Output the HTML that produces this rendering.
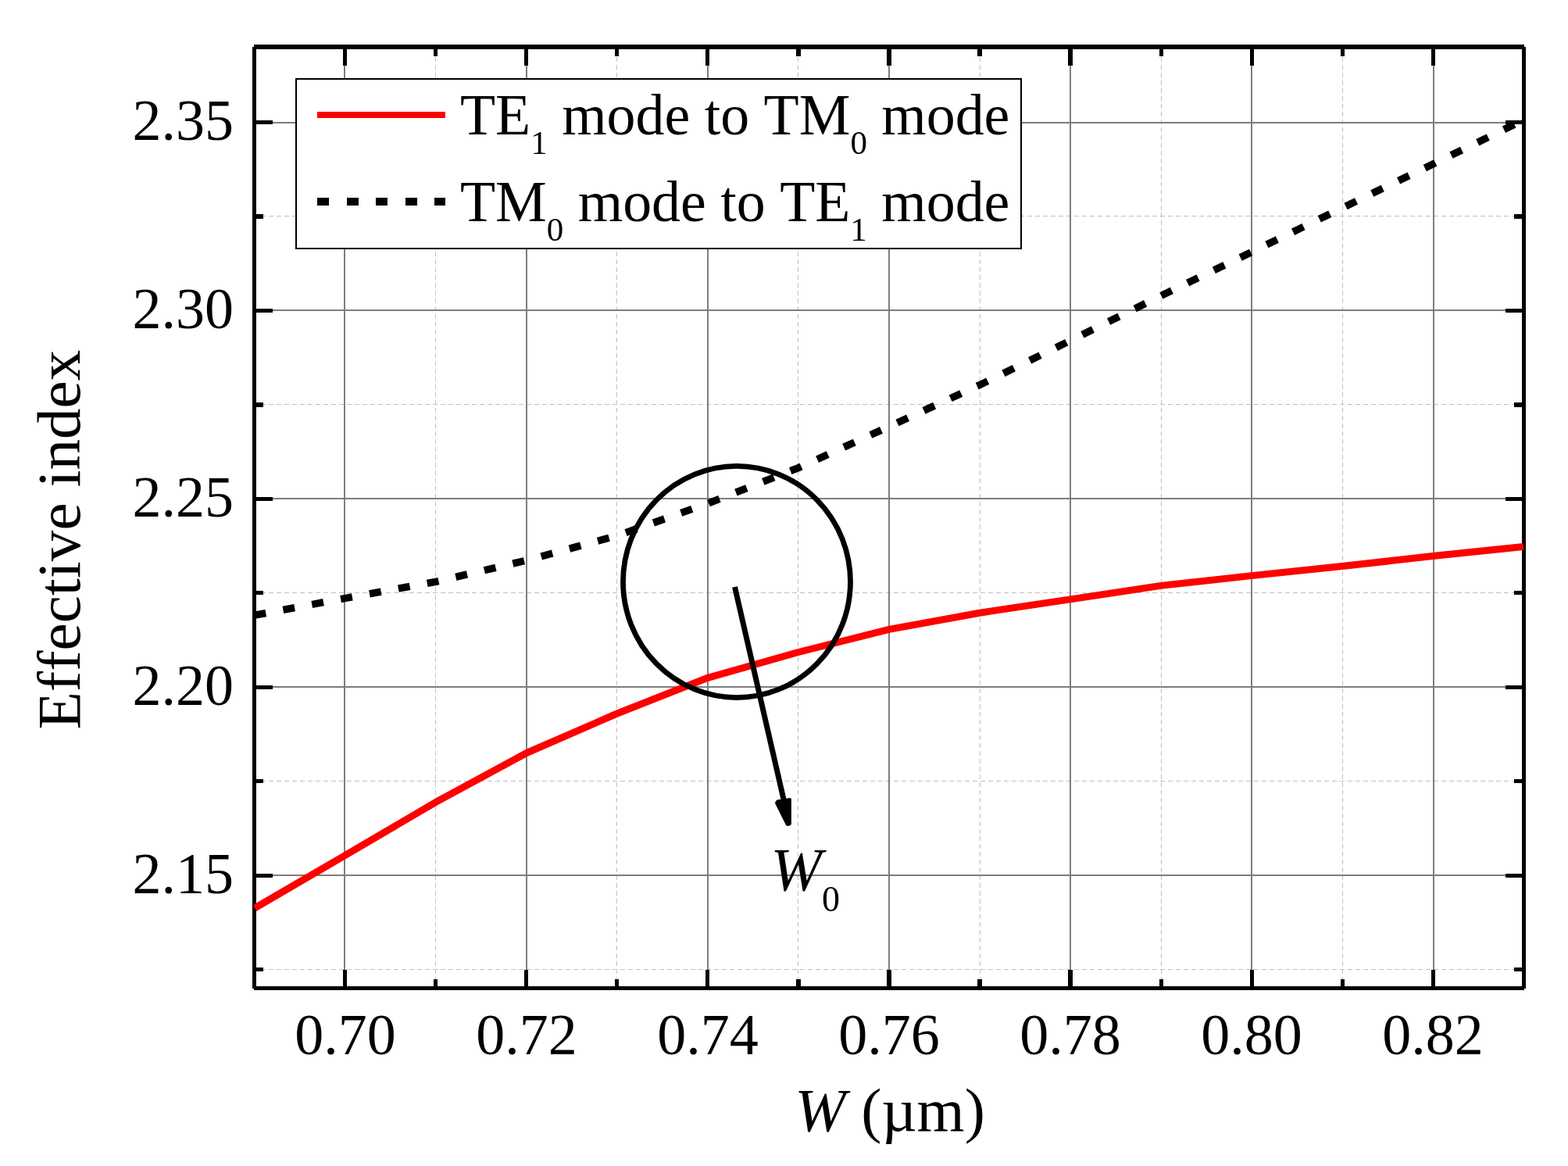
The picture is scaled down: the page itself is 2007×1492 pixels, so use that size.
<!DOCTYPE html>
<html lang="en"><head><meta charset="utf-8"><title>Effective index vs W</title>
<style>
html,body{margin:0;padding:0;background:#fff;}
body{width:2007px;height:1492px;overflow:hidden;}
svg{display:block;}
text{font-family:"Liberation Serif", serif;fill:#000;font-variant-ligatures:none;font-feature-settings:"liga" 0,"clig" 0;font-kerning:none;}
</style></head><body>
<svg width="2007" height="1492" viewBox="0 0 2007 1492">
<rect x="0" y="0" width="2007" height="1492" fill="#fff"/>
<g shape-rendering="crispEdges" fill="none">
<g stroke="#c0c0c0" stroke-width="1">
<line x1="557.5" y1="63" x2="557.5" y2="1262" stroke-dasharray="6 3.975"/>
<line x1="789.5" y1="63" x2="789.5" y2="1262" stroke-dasharray="6 3.975"/>
<line x1="1021.5" y1="63" x2="1021.5" y2="1262" stroke-dasharray="6 3.975"/>
<line x1="1254.5" y1="63" x2="1254.5" y2="1262" stroke-dasharray="6 3.975"/>
<line x1="1486.5" y1="63" x2="1486.5" y2="1262" stroke-dasharray="6 3.975"/>
<line x1="1718.5" y1="63" x2="1718.5" y2="1262" stroke-dasharray="6 3.975"/>
<line x1="324" y1="276.5" x2="1948" y2="276.5" stroke-dasharray="6 4.006"/>
<line x1="324" y1="517.5" x2="1948" y2="517.5" stroke-dasharray="6 4.006"/>
<line x1="324" y1="758.5" x2="1948" y2="758.5" stroke-dasharray="6 4.006"/>
<line x1="324" y1="999.5" x2="1948" y2="999.5" stroke-dasharray="6 4.006"/>
<line x1="324" y1="1240.5" x2="1948" y2="1240.5" stroke-dasharray="6 4.006"/>
</g>
<g stroke="#7d7d7d" stroke-width="2">
<line x1="441" y1="63" x2="441" y2="1262"/>
<line x1="674" y1="63" x2="674" y2="1262"/>
<line x1="906" y1="63" x2="906" y2="1262"/>
<line x1="1138" y1="63" x2="1138" y2="1262"/>
<line x1="1370" y1="63" x2="1370" y2="1262"/>
<line x1="1602" y1="63" x2="1602" y2="1262"/>
<line x1="1835" y1="63" x2="1835" y2="1262"/>
<line x1="328" y1="157" x2="1948" y2="157"/>
<line x1="328" y1="397" x2="1948" y2="397"/>
<line x1="328" y1="638" x2="1948" y2="638"/>
<line x1="328" y1="879" x2="1948" y2="879"/>
<line x1="328" y1="1120" x2="1948" y2="1120"/>
</g>
</g>
<g shape-rendering="crispEdges" fill="#000" stroke="none">
<rect x="325" y="57" width="1626" height="6"/>
<rect x="325" y="1262" width="1626" height="5"/>
<rect x="323" y="60" width="5" height="1205"/>
<rect x="1948" y="60" width="5" height="1205"/>
<rect x="439" y="63" width="5" height="21"/>
<rect x="439" y="1241" width="5" height="21"/>
<rect x="671" y="63" width="5" height="21"/>
<rect x="671" y="1241" width="5" height="21"/>
<rect x="903" y="63" width="5" height="21"/>
<rect x="903" y="1241" width="5" height="21"/>
<rect x="1135" y="63" width="6" height="21"/>
<rect x="1135" y="1241" width="6" height="21"/>
<rect x="1367" y="63" width="6" height="21"/>
<rect x="1367" y="1241" width="6" height="21"/>
<rect x="1600" y="63" width="5" height="21"/>
<rect x="1600" y="1241" width="5" height="21"/>
<rect x="1832" y="63" width="5" height="21"/>
<rect x="1832" y="1241" width="5" height="21"/>
<rect x="555" y="63" width="5" height="9"/>
<rect x="555" y="1253" width="5" height="9"/>
<rect x="787" y="63" width="5" height="9"/>
<rect x="787" y="1253" width="5" height="9"/>
<rect x="1019" y="63" width="6" height="9"/>
<rect x="1019" y="1253" width="6" height="9"/>
<rect x="1251" y="63" width="6" height="9"/>
<rect x="1251" y="1253" width="6" height="9"/>
<rect x="1484" y="63" width="5" height="9"/>
<rect x="1484" y="1253" width="5" height="9"/>
<rect x="1716" y="63" width="5" height="9"/>
<rect x="1716" y="1253" width="5" height="9"/>
<rect x="328" y="154" width="21" height="5"/>
<rect x="1927" y="154" width="21" height="5"/>
<rect x="328" y="395" width="21" height="5"/>
<rect x="1927" y="395" width="21" height="5"/>
<rect x="328" y="636" width="21" height="5"/>
<rect x="1927" y="636" width="21" height="5"/>
<rect x="328" y="877" width="21" height="5"/>
<rect x="1927" y="877" width="21" height="5"/>
<rect x="328" y="1118" width="21" height="5"/>
<rect x="1927" y="1118" width="21" height="5"/>
<rect x="328" y="274" width="9" height="6"/>
<rect x="1938" y="274" width="10" height="6"/>
<rect x="328" y="515" width="9" height="6"/>
<rect x="1938" y="515" width="10" height="6"/>
<rect x="328" y="756" width="9" height="5"/>
<rect x="1938" y="756" width="10" height="5"/>
<rect x="328" y="997" width="9" height="5"/>
<rect x="1938" y="997" width="10" height="5"/>
<rect x="328" y="1238" width="9" height="5"/>
<rect x="1938" y="1238" width="10" height="5"/>
</g>
<rect x="379" y="101" width="928" height="217" fill="#fff" stroke="#000" stroke-width="2" shape-rendering="crispEdges"/>
<line x1="406" y1="147" x2="570" y2="147" stroke="#ff0000" stroke-width="8" shape-rendering="crispEdges"/>
<line x1="406" y1="258" x2="570" y2="258" stroke="#000" stroke-width="10" stroke-dasharray="15 22.5" shape-rendering="crispEdges"/>
<text x="589" y="172" font-size="73.85" xml:space="preserve">TE<tspan font-size="43" dy="25">1</tspan><tspan dy="-25"> mode to TM</tspan><tspan font-size="43" dy="25">0</tspan><tspan dy="-25"> mode</tspan></text>
<text x="589" y="283" font-size="73.85" xml:space="preserve">TM<tspan font-size="43" dy="25">0</tspan><tspan dy="-25"> mode to TE</tspan><tspan font-size="43" dy="25">1</tspan><tspan dy="-25"> mode</tspan></text>
<clipPath id="plotclip"><rect x="325" y="57" width="1626" height="1210"/></clipPath>
<g clip-path="url(#plotclip)" fill="none">
<polyline points="326.0,787.2 442.0,765.5 558.0,744.3 674.0,717.0 790.0,685.5 906.0,644.2 1022.0,598.6 1138.0,545.8 1254.0,492.6 1370.0,435.8 1486.0,378.5 1602.0,322.5 1718.0,266.1 1834.0,210.0 1950.0,153.6" stroke="#000" stroke-width="9.4" stroke-dasharray="15 22.5" stroke-dashoffset="0.5" stroke-linejoin="round"/>
<polyline points="326.0,1162.0 442.0,1094.4 558.0,1026.3 674.0,963.5 790.0,913.0 906.0,867.3 1022.0,834.5 1138.0,805.4 1254.0,784.2 1370.0,766.9 1486.0,749.4 1602.0,736.6 1718.0,724.6 1834.0,711.5 1950.0,699.5" stroke="#ff0000" stroke-width="9" stroke-linejoin="round"/>
</g>
<ellipse cx="943" cy="744.5" rx="145.5" ry="148.1" fill="none" stroke="#000" stroke-width="6.8"/>
<line x1="940.5" y1="751" x2="1003.3" y2="1024" stroke="#000" stroke-width="7"/>
<polygon points="992.3,1026 994.5,1023.4 1011.5,1020.9 1012.9,1022 1012.9,1054.5 1010.8,1056.8 1007,1056.8 1005.8,1055.5 992.3,1028.5" fill="#000"/>
<text x="986.5" y="1139" font-size="78.5" xml:space="preserve"><tspan font-style="italic">W</tspan><tspan font-size="46" dy="27">0</tspan></text>
<text x="299" y="179.0" font-size="74" text-anchor="end">2.35</text>
<text x="299" y="420.0" font-size="74" text-anchor="end">2.30</text>
<text x="299" y="661.0" font-size="74" text-anchor="end">2.25</text>
<text x="299" y="902.0" font-size="74" text-anchor="end">2.20</text>
<text x="299" y="1143.0" font-size="74" text-anchor="end">2.15</text>
<text x="442.0" y="1348.5" font-size="74" text-anchor="middle">0.70</text>
<text x="674.0" y="1348.5" font-size="74" text-anchor="middle">0.72</text>
<text x="906.0" y="1348.5" font-size="74" text-anchor="middle">0.74</text>
<text x="1138.0" y="1348.5" font-size="74" text-anchor="middle">0.76</text>
<text x="1370.0" y="1348.5" font-size="74" text-anchor="middle">0.78</text>
<text x="1602.0" y="1348.5" font-size="74" text-anchor="middle">0.80</text>
<text x="1834.0" y="1348.5" font-size="74" text-anchor="middle">0.82</text>
<text x="1139" y="1447" font-size="78.5" text-anchor="middle" xml:space="preserve"><tspan font-style="italic">W</tspan> (µm)</text>
<text transform="translate(102,690.6) rotate(-90)" font-size="79.2" text-anchor="middle">Effective index</text>
</svg>
</body></html>
